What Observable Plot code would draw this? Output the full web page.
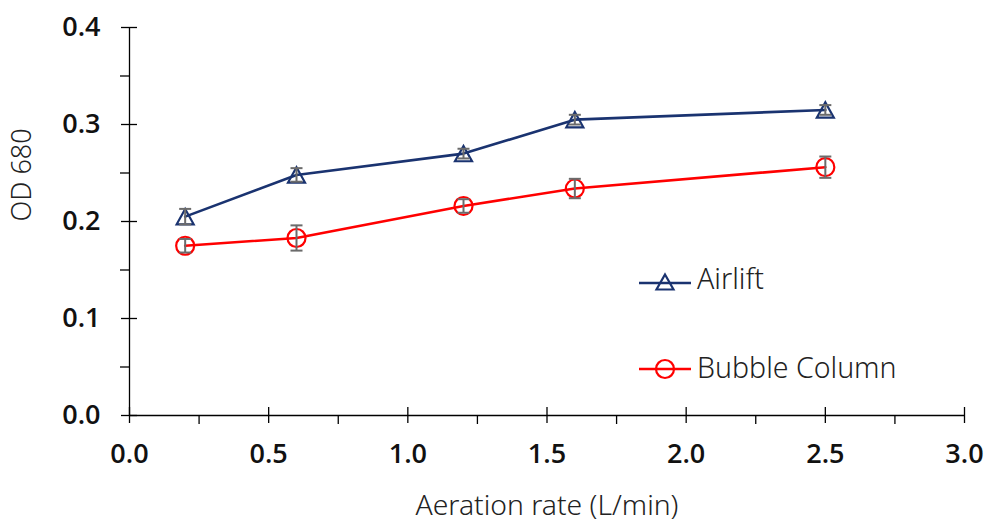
<!DOCTYPE html>
<html>
<head>
<meta charset="utf-8">
<script src="https://cdn.jsdelivr.net/npm/d3@7"></script>
<script src="https://cdn.jsdelivr.net/npm/@observablehq/plot@0.6"></script>
<style>
  html, body { margin: 0; padding: 0; background: #fff; }
  #wrap { position: relative; width: 987px; height: 524px; }
  .legend { position: absolute; display: flex; align-items: center; font-family: "Noto Sans", sans-serif; font-weight: 300; font-size: 28.5px; line-height: 40px; color: #222; }
  .legend svg { display: block; margin-right: 4px; }
  .legend span { position: relative; top: -4px; }
</style>
</head>
<body>
<div id="wrap"></div>
<script>
// Aeration rate (L/min)
const aeration = [0.2, 0.6, 1.2, 1.6, 2.5];
// OD 680, mean and error for each reactor
const airliftOD = [0.205, 0.248, 0.270, 0.305, 0.315];
const airliftErr = [0.008, 0.007, 0.005, 0.005, 0.005];
const bubbleOD = [0.175, 0.183, 0.216, 0.234, 0.256];
const bubbleErr = [0.007, 0.013, 0.007, 0.010, 0.011];
// Axis ticks
const xMajor = [0, 0.5, 1, 1.5, 2, 2.5, 3];
const xMinor = [0.25, 0.75, 1.25, 1.75, 2.25, 2.75];
const yMajor = [0, 0.1, 0.2, 0.3, 0.4];
const yMinor = [0.05, 0.15, 0.25, 0.35];

const navy = "#1a3370";
const red = "#ff0000";
const errGray = "#6b6b6b";

const rows = (name, ys, errs) => aeration.map((x, i) => ({series: name, x, y: ys[i], lo: ys[i] - errs[i], hi: ys[i] + errs[i]}));
const airlift = rows("Airlift", airliftOD, airliftErr);
const bubble = rows("Bubble Column", bubbleOD, bubbleErr);

// Triangle centred on its bounding box
const triangle = {
  draw(context, size) {
    const r = Math.sqrt(size / Math.PI);
    const h = 1.8 * r;
    context.moveTo(0, -h / 2);
    context.lineTo(r, h / 2);
    context.lineTo(-r, h / 2);
    context.closePath();
  }
};
// Horizontal cap for the error bars
const cap = {
  draw(context, size) {
    const r = Math.sqrt(size / Math.PI);
    context.moveTo(-r, 0);
    context.lineTo(r, 0);
  }
};

const tickFont = {fontSize: 27, fontWeight: 600, fontFamily: "Open Sans, sans-serif", fill: "#111"};

const chart = Plot.plot({
  width: 987,
  height: 524,
  marginLeft: 129,
  marginRight: 23,
  marginTop: 27,
  marginBottom: 109,
  x: {domain: [0, 3]},
  y: {domain: [0, 0.4]},
  style: {background: "#fff", fontFamily: "Noto Sans, sans-serif"},
  marks: [
    // axis lines
    Plot.ruleY([0], {stroke: "#000", strokeWidth: 1.3}),
    Plot.ruleX([0], {stroke: "#000", strokeWidth: 1.3}),
    // major ticks cross the axes, minor ticks sit outside
    Plot.axisX(xMajor, {tickSize: 16, dy: -8, fill: "none", stroke: "#000", strokeWidth: 1.3, label: null}),
    Plot.axisX(xMinor, {tickSize: 9, fill: "none", stroke: "#000", strokeWidth: 1.3, label: null}),
    Plot.axisX(xMajor, {tickSize: 0, tickPadding: 28, tickFormat: d3.format(".1f"), label: null, ...tickFont}),
    Plot.axisY(yMajor, {tickSize: 16, dx: 8, fill: "none", stroke: "#000", strokeWidth: 1.3, label: null}),
    Plot.axisY(yMinor, {tickSize: 9, fill: "none", stroke: "#000", strokeWidth: 1.3, label: null}),
    Plot.axisY(yMajor, {tickSize: 0, tickPadding: 29, tickFormat: d3.format(".1f"), label: null, ...tickFont}),
    // axis titles
    Plot.text(["Aeration rate (L/min)"], {frameAnchor: "bottom", dy: 99, fontSize: 28.3, fontWeight: 300, fill: "#222"}),
    Plot.text(["OD 680"], {frameAnchor: "left", dx: -107, rotate: -90, fontSize: 27, fontWeight: 300, fill: "#222"}),
    // series
    Plot.line(airlift, {x: "x", y: "y", stroke: navy, strokeWidth: 2.6}),
    Plot.line(bubble, {x: "x", y: "y", stroke: red, strokeWidth: 2.6}),
    Plot.dot(airlift, {x: "x", y: "y", symbol: triangle, r: 8.5, stroke: navy, strokeWidth: 2.2, fill: "none"}),
    Plot.dot(bubble, {x: "x", y: "y", r: 9, stroke: red, strokeWidth: 2.2, fill: "none"}),
    // error bars
    ...[airlift, bubble].flatMap((d) => [
      Plot.ruleX(d, {x: "x", y1: "lo", y2: "hi", stroke: errGray, strokeWidth: 2}),
      Plot.dot(d, {x: "x", y: "lo", symbol: cap, r: 6, stroke: errGray, strokeWidth: 2}),
      Plot.dot(d, {x: "x", y: "hi", symbol: cap, r: 6, stroke: errGray, strokeWidth: 2})
    ])
  ]
});

const wrap = document.getElementById("wrap");
wrap.appendChild(chart);

// Legend
function legendItem(label, color, shape, top, shift) {
  const div = document.createElement("div");
  div.className = "legend";
  div.style.left = "639px";
  div.style.top = (top - 20) + "px";
  const mark = shape === "triangle"
    ? `<path d="M26,11.5 L34.5,26.5 L17.5,26.5 Z" fill="none" stroke="${color}" stroke-width="2.2"/>`
    : `<circle cx="26" cy="20" r="9" fill="none" stroke="${color}" stroke-width="2.2"/>`;
  div.innerHTML = `<svg width="54" height="40"><line x1="0" x2="52" y1="20" y2="20" stroke="${color}" stroke-width="2.6"/>${mark}</svg><span style="top:${shift}px">${label}</span>`;
  wrap.appendChild(div);
}
legendItem("Airlift", navy, "triangle", 283, -5);
legendItem("Bubble Column", red, "circle", 369, -2);
</script>
</body>
</html>
